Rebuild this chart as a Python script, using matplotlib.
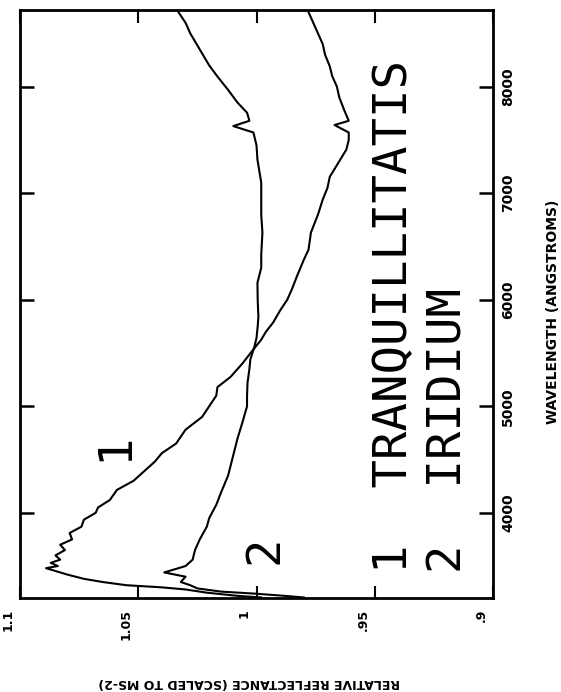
import matplotlib
matplotlib.use('Agg')
import matplotlib.pyplot as plt
from matplotlib.transforms import ScaledTranslation

# spectra: wavelength (angstroms) and relative reflectance
wave_tranq = [3205, 3220, 3250, 3280, 3300, 3320, 3350, 3380, 3420, 3460, 3480,
              3500, 3530, 3560, 3600, 3650, 3700, 3750, 3810, 3870, 3935, 4000,
              4050, 4120, 4215, 4300, 4400, 4480, 4560, 4650, 4780, 4900, 5000,
              5100, 5180, 5275, 5400, 5500, 5625, 5700, 5785, 5900, 6000, 6100,
              6215, 6375, 6470, 6630, 6800, 6940, 7050, 7155, 7300, 7410, 7500,
              7570, 7640, 7680, 7785, 7900, 8000, 8100, 8190, 8300, 8400, 8500,
              8600, 8700]
refl_tranq = [0.998, 1.008, 1.021, 1.030, 1.040, 1.055, 1.065, 1.073, 1.080, 1.086, 1.089,
              1.084, 1.087, 1.083, 1.085, 1.081, 1.083, 1.078, 1.079, 1.074, 1.073, 1.068,
              1.067, 1.062, 1.059, 1.052, 1.047, 1.043, 1.040, 1.034, 1.030, 1.023, 1.020,
              1.017, 1.0165, 1.011, 1.006, 1.0025, 0.998, 0.996, 0.993, 0.990, 0.987, 0.985,
              0.983, 0.980, 0.978, 0.977, 0.974, 0.972, 0.970, 0.969, 0.965, 0.962, 0.961,
              0.961, 0.967, 0.961, 0.963, 0.965, 0.966, 0.968, 0.969, 0.971, 0.972, 0.974,
              0.976, 0.978]

wave_irid = [3205, 3220, 3240, 3260, 3290, 3320, 3350, 3400, 3440, 3500, 3560,
             3650, 3750, 3870, 3950, 4075, 4190, 4350, 4525, 4700, 4845, 5000,
             5100, 5220, 5350, 5440, 5550, 5640, 5750, 5840, 6000, 6160, 6300,
             6420, 6630, 6800, 6940, 7100, 7315, 7450, 7570, 7630, 7680, 7756,
             7850, 7970, 8095, 8200, 8350, 8500, 8600, 8700]
refl_irid = [0.980, 0.988, 1.000, 1.015, 1.025, 1.028, 1.032, 1.030, 1.039, 1.030, 1.027,
             1.026, 1.024, 1.021, 1.020, 1.017, 1.015, 1.012, 1.010, 1.008, 1.006, 1.004,
             1.004, 1.0038, 1.003, 1.0026, 1.001, 1.000, 0.9995, 0.9992, 0.9995, 0.9996, 0.998,
             0.998, 0.9975, 0.998, 0.998, 0.998, 0.9996, 1.000, 1.0013, 1.0098, 1.003, 1.004,
             1.008, 1.012, 1.0165, 1.020, 1.024, 1.028, 1.030, 1.033]

refl_ticks = [1.1, 1.05, 1.0, 0.95, 0.9]
refl_labels = ['1.1', '1.05', '1', '.95', '.9']
wave_ticks = [4000, 5000, 6000, 7000, 8000]
wave_labels = ['4000', '5000', '6000', '7000', '8000']

fig = plt.figure(figsize=(5.61, 6.92), dpi=100)
ax = fig.add_axes([20 / 561, 1 - 598 / 692, 473 / 561, 588 / 692])

ax.plot(refl_tranq, wave_tranq, color='black', lw=1.5)
ax.plot(refl_irid, wave_irid, color='black', lw=1.5)

ax.set_xlim(1.1, 0.9)
ax.set_ylim(3200, 8720)
for s in ax.spines.values():
    s.set_linewidth(2.0)

ax.set_xticks(refl_ticks)
ax.set_xticklabels(refl_labels, rotation=90, fontsize=9, fontweight='heavy')
ax.tick_params(axis='x', direction='in', top=True, length=9, width=1.5, pad=8)
# labels sit a little to the left of their ticks in the original
for lab in ax.get_xticklabels():
    lab.set_transform(lab.get_transform() + ScaledTranslation(-12 / 100, 0, fig.dpi_scale_trans))

ax.yaxis.tick_right()
ax.set_yticks(wave_ticks)
ax.set_yticklabels(wave_labels, rotation=90, fontsize=10, fontweight='heavy', va='center')
ax.tick_params(axis='y', direction='in', left=True, right=True, labelleft=False,
               labelright=True, length=10, width=1.8, pad=6)

ax.set_xlabel('RELATIVE REFLECTANCE (SCALED TO MS-2)', rotation=180,
              fontsize=9, fontweight='heavy')
ax.xaxis.set_label_coords(0.485, -0.133)
ax.yaxis.set_label_position('right')
ax.set_ylabel('WAVELENGTH (ANGSTROMS)', rotation=90, fontsize=10, fontweight='heavy')
ax.yaxis.set_label_coords(1.112, 0.486)

big = dict(family='DejaVu Sans Mono', fontsize=34, rotation=90,
           rotation_mode='anchor', transform=ax.transAxes)
ax.text(0.818, 0.042, '1  TRANQUILLITATIS', ha='left', va='baseline', **big)
ax.text(0.934, 0.042, '2  IRIDIUM', ha='left', va='baseline', **big)

ax.text(1.0545, 4620, '1', family='DejaVu Sans Mono', fontsize=34, rotation=90,
        rotation_mode='anchor', ha='center', va='baseline')
ax.text(0.991, 3652, '2', family='DejaVu Sans Mono', fontsize=34, rotation=90,
        rotation_mode='anchor', ha='center', va='baseline')

fig.savefig('out.png', dpi=100)
